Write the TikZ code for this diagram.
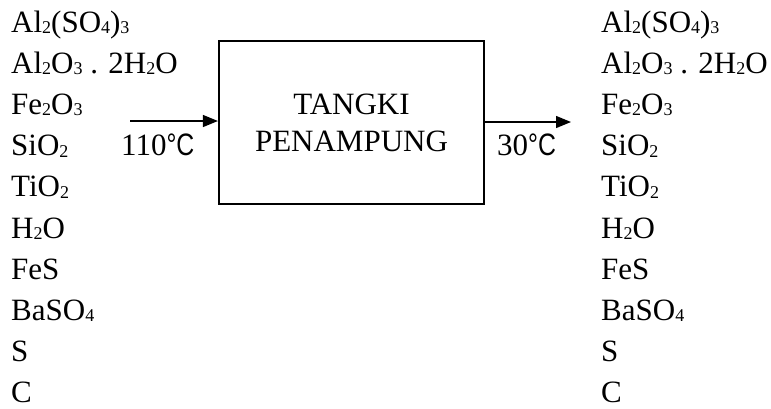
\documentclass[tikz,border=0pt]{standalone}
\usepackage{fontspec}
\setmainfont{Liberation Serif}
\newfontfamily\degfont{Liberation Sans}
\usetikzlibrary{arrows.meta}

% subscript digits as in the flow sheet
\newcommand{\chsub}[1]{\raisebox{-1.5pt}{\fontsize{18}{18}\selectfont #1}}
% narrow degree Celsius sign
\newcommand{\degc}{\scalebox{0.8}[1]{\degfont °C}}

\tikzset{
  comp/.style={anchor=base west, inner sep=0pt, font=\fontsize{31}{36}\selectfont},
  tankbox/.style={draw, line width=2.2pt, minimum width=265pt, minimum height=163pt,
                  inner sep=0pt, align=center, font=\fontsize{31}{37}\selectfont},
  flow/.style={line width=1.3pt, -{Triangle[length=15pt,width=12pt]}}
}

\begin{document}
\begin{tikzpicture}[x=1pt, y=-1pt]
    \useasboundingbox (0,0) rectangle (771,408);

    % tangki penampung
    \node[tankbox] (tank) at (351.5,122.5) {TANGKI\\PENAMPUNG};

    % komponen masuk dan keluar
    \foreach \txt [count=\i] in {%
        Al\chsub{2}(SO\chsub{4})\chsub{3},
        Al\chsub{2}O\chsub{3} . 2H\chsub{2}O,
        Fe\chsub{2}O\chsub{3},
        SiO\chsub{2},
        TiO\chsub{2},
        H\chsub{2}O,
        FeS,
        BaSO\chsub{4},
        S,
        C} {
        \node[comp] (in\i) at (11,{32+41.2*(\i-1)}) {\txt};
        \node[comp] (out\i) at (601,{32+41.2*(\i-1)}) {\txt};
    }

    % aliran masuk
    \coordinate (inlet) at (130,121);
    \draw[flow] (inlet) -- (inlet -| tank.west);
    \node[comp] (tin) at (121,155) {110\degc};

    % aliran keluar
    \coordinate (outlet) at (571,122);
    \draw[flow] (outlet -| tank.east) -- (outlet);
    \node[comp] (tout) at (497,155) {30\degc};
\end{tikzpicture}
\end{document}
